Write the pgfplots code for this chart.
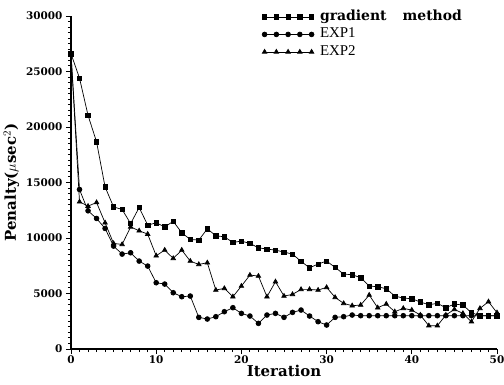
\documentclass[border=0pt]{standalone}
\usepackage{pgfplots}
\pgfplotsset{compat=1.18}
\usepackage{fontspec}
\setmainfont{DejaVu Serif}
\newfontfamily\libser{Liberation Serif}
\pgfplotstableread{
x y
0 26600
1 24400
2 21050
3 18660
4 14600
5 12800
6 12570
7 11300
8 12750
9 11160
10 11370
11 11000
12 11500
13 10470
14 9870
15 9810
16 10830
17 10200
18 10110
19 9600
20 9720
21 9510
22 9120
23 9000
24 8910
25 8730
26 8550
27 7890
28 7320
29 7650
30 7920
31 7350
32 6750
33 6690
34 6420
35 5670
36 5610
37 5430
38 4770
39 4590
40 4530
41 4230
42 3990
43 4110
44 3720
45 4050
46 3960
47 3270
48 3000
49 3000
50 3000
}\gradtab
\pgfplotstableread{
x y
0 26600
1 14370
2 12450
3 11760
4 10860
5 9270
6 8550
7 8670
8 7920
9 7470
10 5970
11 5850
12 5070
13 4710
14 4770
15 2850
16 2700
17 2910
18 3360
19 3720
20 3210
21 2970
22 2310
23 3060
24 3210
25 2850
26 3300
27 3510
28 2970
29 2460
30 2160
31 2850
32 2910
33 3060
34 3000
35 3000
36 3000
37 3000
38 3000
39 3000
40 3000
41 3000
42 3000
43 3000
44 3000
45 3000
46 3000
47 3000
48 3000
49 3000
50 3000
}\expone
\pgfplotstableread{
x y
0 26600
1 13260
2 12870
3 13200
4 11370
5 9510
6 9420
7 11000
8 10650
9 10350
10 8400
11 8910
12 8160
13 8910
14 7920
15 7620
16 7770
17 5310
18 5460
19 4710
20 5670
21 6660
22 6570
23 4710
24 6060
25 4770
26 4920
27 5370
28 5370
29 5310
30 5550
31 4650
32 4110
33 3900
34 3960
35 4860
36 3720
37 4050
38 3360
39 3660
40 3510
41 3060
42 2100
43 2100
44 3060
45 3570
46 3210
47 2460
48 3660
49 4260
50 3270
}\exptwo
\begin{document}
\begin{tikzpicture}
\path[use as bounding box] (-71bp,-36bp) rectangle (433bp,349bp);
\begin{axis}[
  at={(0,0)}, anchor=south west,
  scale only axis,
  width=426bp, height=333bp,
  xmin=0, xmax=50, ymin=0, ymax=30000,
  axis lines=left,
  axis line style={line width=1.3bp, -},
  xtick={0,10,...,50},
  ytick={0,5000,...,30000},
  minor x tick num=9,
  minor y tick num=9,
  tick align=outside,
  major tick length=5bp,
  minor tick length=3bp,
  every tick/.style={line width=0.9bp, black},
  scaled y ticks=false,
  /pgf/number format/1000 sep={},
  /pgf/number format/assume math mode=true,
  tick label style={font=\fontsize{10.5}{12}\selectfont\bfseries},
  xticklabel style={yshift=2bp},
  xlabel={Iteration},
  ylabel={Penalty($\mu$sec$^2$)},
  xlabel style={font=\fontsize{15}{16}\selectfont\bfseries, yshift=5bp},
  ylabel style={font=\fontsize{15}{16}\selectfont\bfseries, yshift=0bp},
  legend style={draw=none, fill=none, at={(191bp,339bp)}, anchor=north west, row sep=4bp,
     font=\fontsize{14}{14}\selectfont, inner sep=0pt, column sep=6bp,
     nodes={inner sep=0pt, text height=10bp, text depth=3.5bp}},
  legend cell align=left,
  legend image code/.code={\draw[#1] plot coordinates {(0bp,0bp) (11.75bp,0bp) (23.5bp,0bp) (35.25bp,0bp) (47bp,0bp)};},
  every axis plot/.append style={black, line width=0.7bp, mark options={solid, fill=black}},
]
\addplot[mark=square*, mark size=2.2bp] table {\gradtab};
\addlegendentry{\bfseries gradient\hspace{16bp}method}
\addplot[mark=*, mark size=2.4bp] table {\expone};
\addlegendentry{\libser\fontsize{15}{15}\selectfont EXP1}
\addplot[mark=triangle*, mark size=2.6bp] table {\exptwo};
\addlegendentry{\libser\fontsize{15}{15}\selectfont EXP2}
\end{axis}
\end{tikzpicture}
\end{document}
